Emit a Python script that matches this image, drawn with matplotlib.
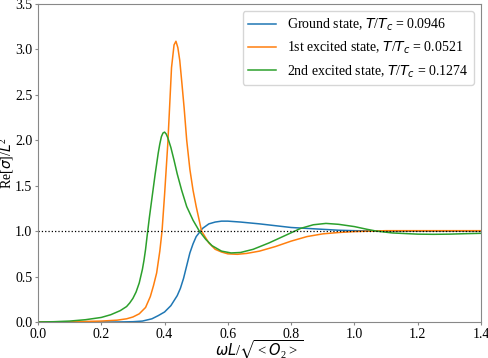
import matplotlib
matplotlib.use("Agg")
import matplotlib.pyplot as plt

plt.rcParams['font.family'] = ['Liberation Serif', 'DejaVu Serif']
plt.rcParams['mathtext.fontset'] = 'custom'
plt.rcParams['mathtext.rm'] = 'Liberation Serif'
plt.rcParams['mathtext.it'] = 'DejaVu Sans:italic'
plt.rcParams['mathtext.bf'] = 'Liberation Serif:bold'
plt.rcParams['mathtext.fallback'] = 'stixsans'

labels = [r"Ground state, $T/T_c$ = 0.0946",
          r"1st excited state, $T/T_c$ = 0.0521",
          r"2nd excited state, $T/T_c$ = 0.1274"]
colors = ["#1f77b4", "#ff7f0e", "#2ca02c"]

x_ground = [0.0, 0.1, 0.2, 0.25, 0.3, 0.33, 0.36, 0.38, 0.40, 0.42, 0.44, 0.45, 0.46, 0.47,
            0.48, 0.49, 0.50, 0.52, 0.54, 0.56, 0.58, 0.60, 0.64, 0.70, 0.75, 0.80, 0.85,
            0.90, 0.95, 1.0, 1.1, 1.2, 1.3, 1.4]
y_ground = [0.0, 0.0, 0.0, 0.0, 0.003, 0.01, 0.035, 0.07, 0.11, 0.18, 0.29, 0.37, 0.48, 0.62,
            0.76, 0.86, 0.94, 1.03, 1.08, 1.10, 1.11, 1.11, 1.10, 1.08, 1.06, 1.04, 1.03,
            1.02, 1.01, 1.005, 1.0, 1.0, 1.0, 1.0]

x_first = [0.0, 0.1, 0.2, 0.25, 0.28, 0.30, 0.32, 0.34, 0.355, 0.365, 0.375, 0.385, 0.392,
           0.40, 0.41, 0.415, 0.422, 0.43, 0.436, 0.442, 0.448, 0.455, 0.462, 0.47, 0.48,
           0.49, 0.50, 0.517, 0.54, 0.56, 0.58, 0.60, 0.63, 0.66, 0.70, 0.75, 0.80, 0.85,
           0.90, 0.95, 1.0, 1.05, 1.1, 1.2, 1.3, 1.4]
y_first = [0.0, 0.002, 0.01, 0.02, 0.035, 0.055, 0.09, 0.16, 0.28, 0.40, 0.54, 0.78, 1.0,
           1.40, 1.95, 2.30, 2.80, 3.05, 3.09, 3.02, 2.88, 2.62, 2.35, 2.00, 1.68,
           1.45, 1.27, 1.0, 0.87, 0.80, 0.77, 0.75, 0.745, 0.755, 0.78, 0.83, 0.89, 0.94,
           0.97, 0.985, 0.995, 1.0, 1.005, 1.005, 1.005, 1.005]

x_second = [0.0, 0.05, 0.1, 0.15, 0.2, 0.23, 0.26, 0.28, 0.29, 0.30, 0.31, 0.32, 0.33, 0.335,
            0.34, 0.345, 0.352, 0.36, 0.37, 0.38, 0.385, 0.39, 0.395, 0.40, 0.405, 0.41,
            0.42, 0.43, 0.44, 0.454, 0.47, 0.49, 0.51, 0.53, 0.55, 0.58, 0.61, 0.64, 0.68,
            0.73, 0.78, 0.83, 0.87, 0.91, 0.95, 1.0, 1.04, 1.07, 1.12, 1.2, 1.25, 1.3, 1.35,
            1.4]
y_second = [0.0, 0.003, 0.01, 0.025, 0.05, 0.08, 0.125, 0.17, 0.21, 0.26, 0.33, 0.43, 0.58,
            0.68, 0.80, 0.95, 1.15, 1.36, 1.62, 1.86, 1.96, 2.04, 2.08, 2.09, 2.07, 2.03,
            1.92, 1.78, 1.63, 1.45, 1.27, 1.12, 1.0, 0.91, 0.84, 0.78, 0.76, 0.765, 0.80,
            0.87, 0.95, 1.03, 1.07, 1.085, 1.075, 1.05, 1.02, 1.0, 0.98, 0.967, 0.965,
            0.967, 0.972, 0.976]

xs = [x_ground, x_first, x_second]
ys = [y_ground, y_first, y_second]

fig = plt.figure(figsize=(4.89, 3.58), dpi=100)
ax = fig.add_axes([0.0777, 0.1006, 0.9059, 0.8882])

for x, y, c, lab in zip(xs, ys, colors, labels):
    ax.plot(x, y, color=c, lw=1.1, label=lab)
ax.axhline(1.0, color='black', lw=0.9, ls=':')

ax.set_xlim(0, 1.4)
ax.set_ylim(0, 3.5)
ax.set_xticks([0.0, 0.2, 0.4, 0.6, 0.8, 1.0, 1.2, 1.4])
ax.set_yticks([0.0, 0.5, 1.0, 1.5, 2.0, 2.5, 3.0, 3.5])
ax.tick_params(labelsize=10, color='#888888', length=2.5, pad=1.5)
for s in ax.spines.values():
    s.set_color('#888888')
ax.set_xlabel(r"$\omega L/\sqrt{<O_2>}$", fontsize=10.5)
ax.set_ylabel(r"Re$[\sigma]/L^2$", fontsize=10)
ax.xaxis.set_label_coords(0.5, -0.053)
ax.yaxis.set_label_coords(-0.05, 0.5)
ax.legend(loc='upper right', fontsize=10, framealpha=0.8)

fig.savefig("out.png", dpi=100)
